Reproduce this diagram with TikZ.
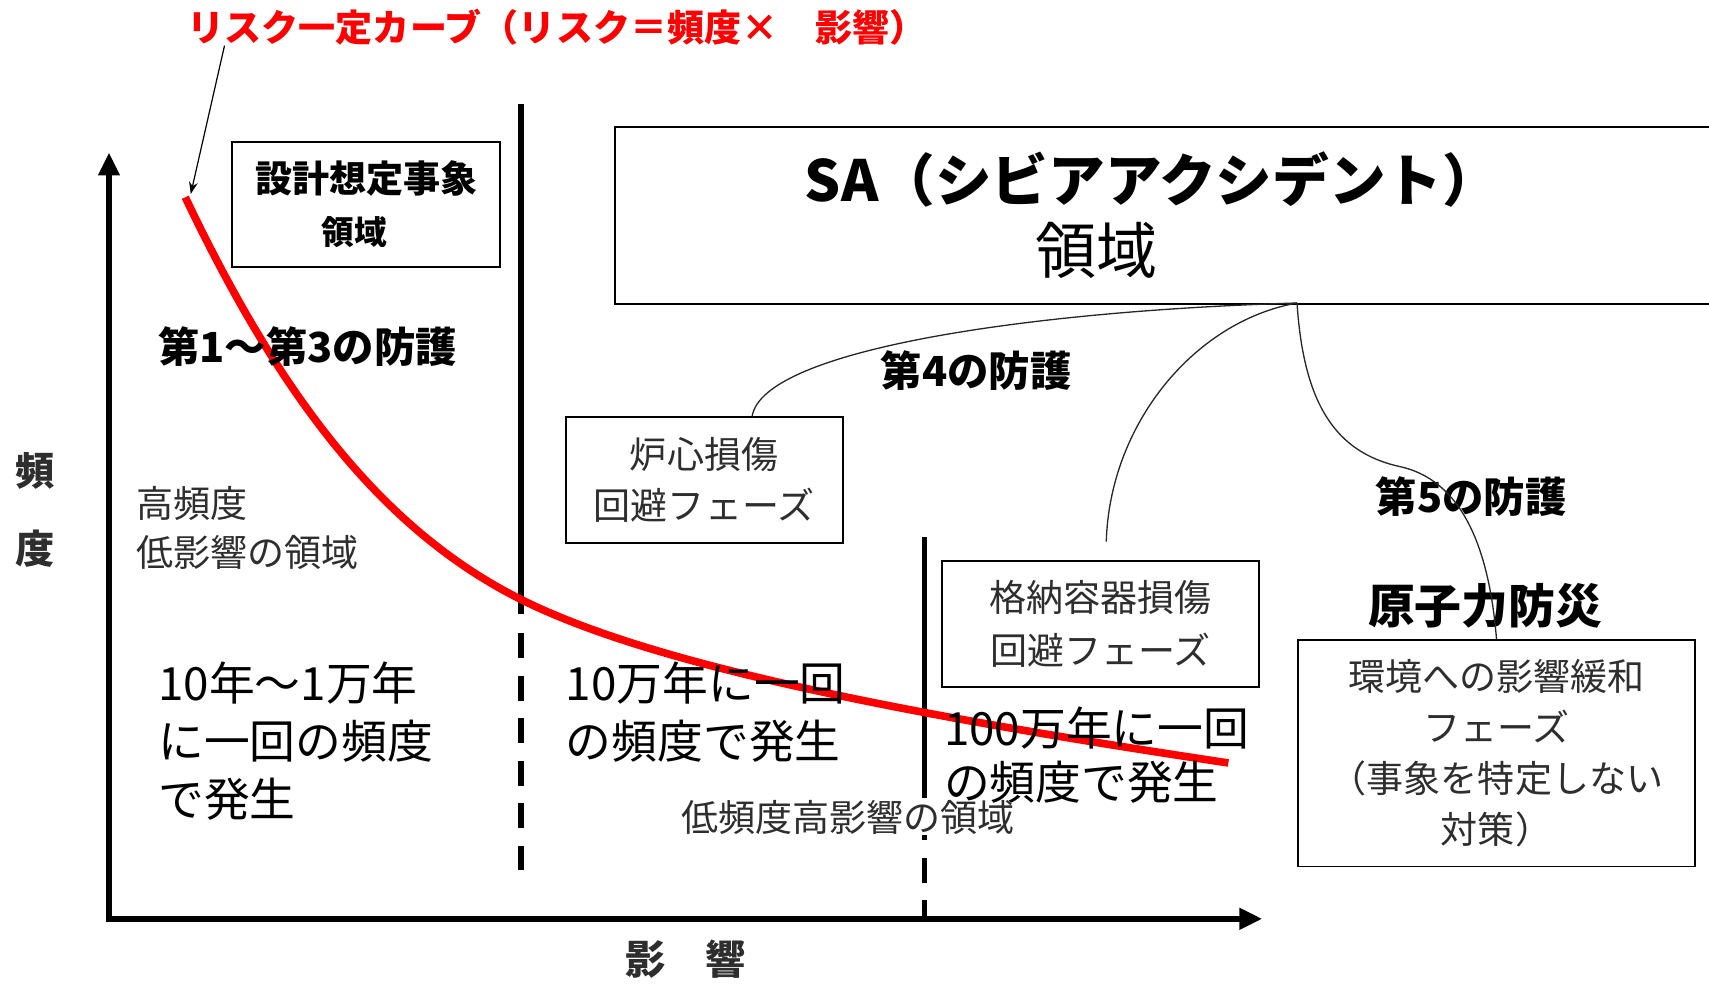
\documentclass[tikz,border=0pt]{standalone}
\usepackage{fontspec}
\newfontfamily\jp{Noto Sans CJK JP}
\usetikzlibrary{arrows.meta}
\begin{document}
\begin{tikzpicture}[x=1pt,y=-1pt,
  jpt/.style={inner sep=0pt, font=\jp\fontsize{#1}{#1}\selectfont},
  jptb/.style={inner sep=0pt, font=\jp\bfseries\fontsize{#1}{#1}\selectfont},
  box/.style={draw, line width=1.8pt, inner sep=0pt, align=center},
  divider/.style={line width=5pt},
  axis/.style={line width=5pt, line join=miter,
     {Triangle[length=21pt,width=19pt]}-{Triangle[length=21pt,width=19pt]}},
  link/.style={line width=1.2pt, draw=black!85},
  riskcurve/.style={draw=red, line width=7pt},
  graytxt/.style={text=black!82},
]
\useasboundingbox (0,0) rectangle (1568,904);

% boxes
\node[box, minimum width=246pt, minimum height=115pt,
      font=\jp\bfseries\fontsize{34}{48}\selectfont] (sekkei) at (336,187.5)
      {設計想定事象\\{\fontsize{30}{48}\selectfont 領域\hspace*{22pt}}};
\node[box, draw, minimum width=1020pt, minimum height=162pt, anchor=north west] (sa) at (563,116) {};
\node[box, minimum width=254pt, minimum height=115pt, graytxt,
      font=\jp\fontsize{34}{47}\selectfont] (rishin) at (646,440.5)
      {炉心損傷\\回避フェーズ};
\node[box, minimum width=291pt, minimum height=115pt, graytxt,
      font=\jp\fontsize{34}{48}\selectfont] (kakuno) at (1009.5,572.5)
      {格納容器損傷\\回避フェーズ};
\node[box, minimum width=364pt, minimum height=208pt, graytxt,
      font=\jp\fontsize{34}{46.7}\selectfont] (kankyo) at (1373,691)
      {環境への影響緩和\\フェーズ\\（事象を特定しない\\対策）};

% dividers
\coordinate (d1top) at (478,95);
\coordinate (d1mid) at (478,563);
\coordinate (d1a) at (478,581);
\coordinate (d1bot) at (478,798);
\draw[divider] (d1top) -- (d1mid);
\draw[divider, dash pattern=on 23pt off 16pt] (d1a) -- (d1bot);
\coordinate (d2top) at (848,493);
\coordinate (d2mid) at (848,709);
\coordinate (d2bot) at (848,843);
\draw[divider] (d2top) -- (d2mid);
\draw[divider, dash pattern=on 23pt off 16pt] (d2mid) -- (d2bot);

% axes
\coordinate (origin) at (100,843);
\coordinate (ytip) at (100,140);
\coordinate (xtip) at (1158,843);
\draw[axis] (ytip) -- (origin) -- (xtip);

% risk curve
\coordinate (curvestart) at (170,181);
\coordinate (curvemid) at (478,550);
\coordinate (curveend) at (1127,700);
\draw[riskcurve] (curvestart) .. controls (255,359.5) and (348,485) .. (curvemid)
   .. controls (598,610) and (827,655) .. (curveend);
\coordinate (curvetop) at (175,178);

% texts
\node[jptb=34, text=red, anchor=west] (title) at (172,25) {リスク一定カーブ（リスク＝頻度×　影響）};
\draw[line width=1.1pt, -{Stealth[length=11pt,width=8pt]}] ([xshift=34pt]title.south west) -- (curvetop);

\node[jptb=52, anchor=center] (saname) at (1057,165) {SA（シビアアクシデント）};
\node[jpt=56, anchor=center] (saregion) at (1006,230) {領域};

\node[jptb=38, anchor=west] (def13) at (145,318) {第1～第3の防護};
\node[jptb=38, anchor=west] (def4) at (808,340) {第4の防護};
\node[jptb=38, anchor=west] (def5) at (1262,456) {第5の防護};
\node[jptb=43, anchor=west] (bousai) at (1255,556) {原子力防災};

\node[jptb=36, graytxt] (yfreq1) at (32,432) {頻};
\node[jptb=36, graytxt] (yfreq2) at (32,503) {度};
\node[jptb=37, graytxt] (ximpact) at (629,880) {影　響};

\node[jpt=34, graytxt, anchor=west] (hf1) at (125,462) {高頻度};
\node[jpt=34, graytxt, anchor=west] (hf2) at (125,507) {低影響の領域};

\node[inner sep=0pt, anchor=west, align=left, font=\jp\fontsize{42}{53}\selectfont] (freq1) at (145,680)
  {10年～1万年\\に一回の頻度\\で発生};
\node[inner sep=0pt, anchor=west, align=left, font=\jp\fontsize{42}{53}\selectfont] (freq2) at (519,653.5)
  {10万年に一回\\の頻度で発生};
\node[jpt=34, graytxt, fill=white, anchor=west] (lowfreq) at (625,750) {低頻度高影響の領域};
\node[inner sep=0pt, anchor=west, align=left, font=\jp\fontsize{42}{50}\selectfont] (freq3) at (866,693)
  {100万年に一回\\の頻度で発生};

% connectors
\coordinate (sahub) at (1190,278);
\coordinate (kakunotip) at (1015,497);
\draw[link] (rishin.53) .. controls (700,320) and (950,285) .. (sahub);
\draw[link] (kakunotip) .. controls (1018,390) and (1095,295) .. (sahub);
\draw[link] (sahub) .. controls (1196,370) and (1225,415) .. (1284,428)
   .. controls (1340,440) and (1366,500) .. (kankyo.north);
\end{tikzpicture}
\end{document}
